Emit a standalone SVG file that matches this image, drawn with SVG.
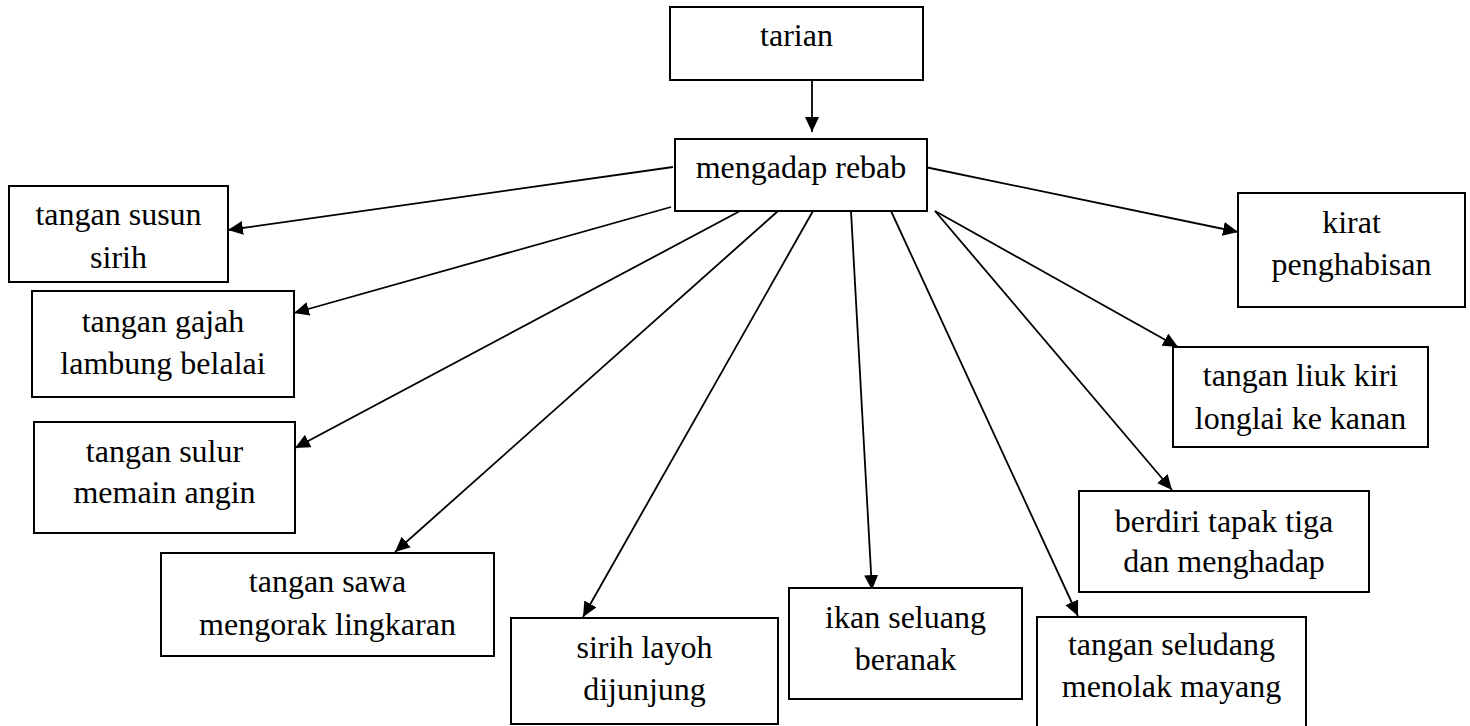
<svg xmlns="http://www.w3.org/2000/svg" width="1470" height="726" viewBox="0 0 1470 726">
<defs>
<style>
.box{fill:#fff;stroke:#000;stroke-width:2}
.t{font-family:"Liberation Serif","Times New Roman",serif;font-size:32px;fill:#000;text-anchor:middle}
.c{stroke:#000;stroke-width:1.8;fill:none;marker-end:url(#ah)}
</style>
<marker id="ah" markerUnits="userSpaceOnUse" markerWidth="16" markerHeight="14" refX="15" refY="7" orient="auto">
<path d="M0,0 L15,7 L0,14 z" fill="#000"/>
</marker>
</defs>
<rect width="1470" height="726" fill="#fff"/>
<g id="connectors">
<line class="c" x1="812" y1="72" x2="812" y2="132"/>
<line class="c" x1="673" y1="167" x2="228" y2="230"/>
<line class="c" x1="671" y1="207" x2="294" y2="313"/>
<line class="c" x1="740" y1="211" x2="295" y2="448"/>
<line class="c" x1="778" y1="211" x2="395" y2="552"/>
<line class="c" x1="813" y1="211" x2="583" y2="617"/>
<line class="c" x1="851" y1="211" x2="872" y2="590"/>
<line class="c" x1="891" y1="211" x2="1078" y2="616"/>
<line class="c" x1="935" y1="211" x2="1172" y2="490"/>
<line class="c" x1="935" y1="211" x2="1178" y2="347"/>
<line class="c" x1="925" y1="167" x2="1238" y2="232"/>
</g>
<g id="tarian"><rect class="box" x="670" y="7" width="253" height="73"/><text class="t" x="796.5" y="46">tarian</text></g>
<g id="mengadap-rebab"><rect class="box" x="675" y="139" width="252" height="72"/><text class="t" x="801" y="178">mengadap rebab</text></g>
<g id="tangan-susun-sirih"><rect class="box" x="9" y="186" width="219" height="96"/><text class="t" x="118.5" y="225">tangan susun</text><text class="t" x="118.5" y="268">sirih</text></g>
<g id="tangan-gajah"><rect class="box" x="32" y="291" width="262" height="106"/><text class="t" x="163" y="332">tangan gajah</text><text class="t" x="163" y="374">lambung belalai</text></g>
<g id="tangan-sulur"><rect class="box" x="34" y="422" width="261" height="111"/><text class="t" x="164.5" y="462">tangan sulur</text><text class="t" x="164.5" y="503">memain angin</text></g>
<g id="tangan-sawa"><rect class="box" x="161" y="553" width="333" height="103"/><text class="t" x="327.5" y="592">tangan sawa</text><text class="t" x="327.5" y="635">mengorak lingkaran</text></g>
<g id="sirih-layoh"><rect class="box" x="511" y="618" width="267" height="106"/><text class="t" x="644.5" y="658">sirih layoh</text><text class="t" x="644.5" y="700">dijunjung</text></g>
<g id="ikan-seluang"><rect class="box" x="789" y="588" width="233" height="111"/><text class="t" x="905.5" y="628">ikan seluang</text><text class="t" x="905.5" y="670">beranak</text></g>
<g id="tangan-seludang"><rect class="box" x="1037" y="617" width="269" height="115"/><text class="t" x="1171.5" y="655">tangan seludang</text><text class="t" x="1171.5" y="697">menolak mayang</text></g>
<g id="berdiri-tapak-tiga"><rect class="box" x="1079" y="491" width="290" height="101"/><text class="t" x="1224" y="532">berdiri tapak tiga</text><text class="t" x="1224" y="572">dan menghadap</text></g>
<g id="tangan-liuk"><rect class="box" x="1173" y="347" width="255" height="100"/><text class="t" x="1300.5" y="386">tangan liuk kiri</text><text class="t" x="1300.5" y="429">longlai ke kanan</text></g>
<g id="kirat-penghabisan"><rect class="box" x="1238" y="193" width="227" height="114"/><text class="t" x="1351.5" y="233">kirat</text><text class="t" x="1351.5" y="275">penghabisan</text></g>
</svg>
